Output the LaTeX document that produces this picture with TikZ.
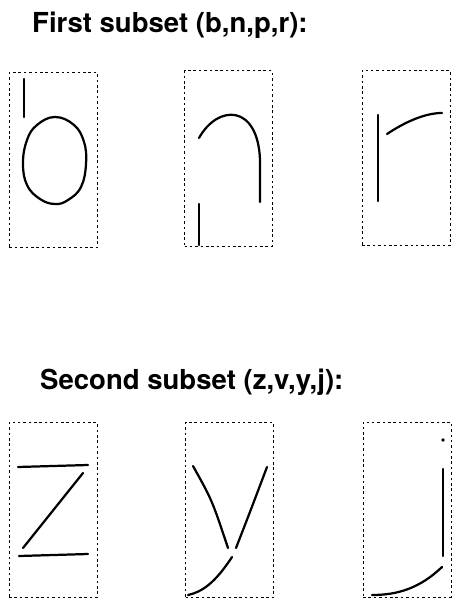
\documentclass[tikz,border=0pt]{standalone}
\usepackage{fontspec}
\setmainfont{TeX Gyre Heros}
\usetikzlibrary{positioning}

\begin{document}
\begin{tikzpicture}[x=0.03cm, y=-0.03cm,
    glyphbox/.style={draw, line width=0.85pt, dash pattern=on 2.2pt off 2.4pt,
                     minimum width=2.64cm, minimum height=5.25cm, inner sep=0pt},
    stroke/.style={line width=1.9pt, line cap=round},
    heading/.style={font=\fontsize{23.5}{27}\selectfont\bfseries, anchor=base west, inner sep=0pt}]
  \useasboundingbox (0,0) rectangle (455,600);

  \node[heading] (first) at (32,33) {First subset (b,n,p,r):};
  \node[heading] (second) at (40,389) {Second subset (z,v,y,j):};

  \node[glyphbox] (boxb) at (53.5,160) {};
  \node[glyphbox] (boxn) at (228.5,158.5) {};
  \node[glyphbox] (boxr) at (406,158) {};
  \node[glyphbox] (boxz) at (53,510) {};
  \node[glyphbox] (boxy) at (229.5,510) {};
  \node[glyphbox] (boxj) at (407,509.5) {};

  % b
  \draw[stroke] (24,79) -- (24,117);
  \draw[stroke] plot[smooth cycle, tension=0.7] coordinates
    {(55,117) (74,125) (84,142) (86,164) (81,187) (68,200) (55,204) (40,199)
     (27,185) (23,163) (27,140) (37,125)};
  % n
  \draw[stroke] (199,138) .. controls (218,104) and (258,104) .. (260,160) -- (260,202);
  \draw[stroke] (199,204) -- (199,245);
  % r
  \draw[stroke] (378,115) -- (378,201);
  \draw[stroke] (387,134) .. controls (405,122) and (425,113) .. (442,113);

  % z
  \draw[stroke] (18,467) -- (88,465);
  \draw[stroke] (83,473) -- (23,548);
  \draw[stroke] (19,556) -- (88,554);
  % y
  \draw[stroke] (193,466) .. controls (212,500) .. (228,548);
  \draw[stroke] (267,467) .. controls (250,512) .. (236,548);
  \draw[stroke] (232,557) .. controls (215,583) and (202,592) .. (188,595);
  % j
  \fill (443,440) circle [radius=1.8];
  \draw[stroke] (443,469) -- (443,556);
  \draw[stroke] (442,567) .. controls (420,588) and (398,595) .. (372,595);
\end{tikzpicture}
\end{document}
